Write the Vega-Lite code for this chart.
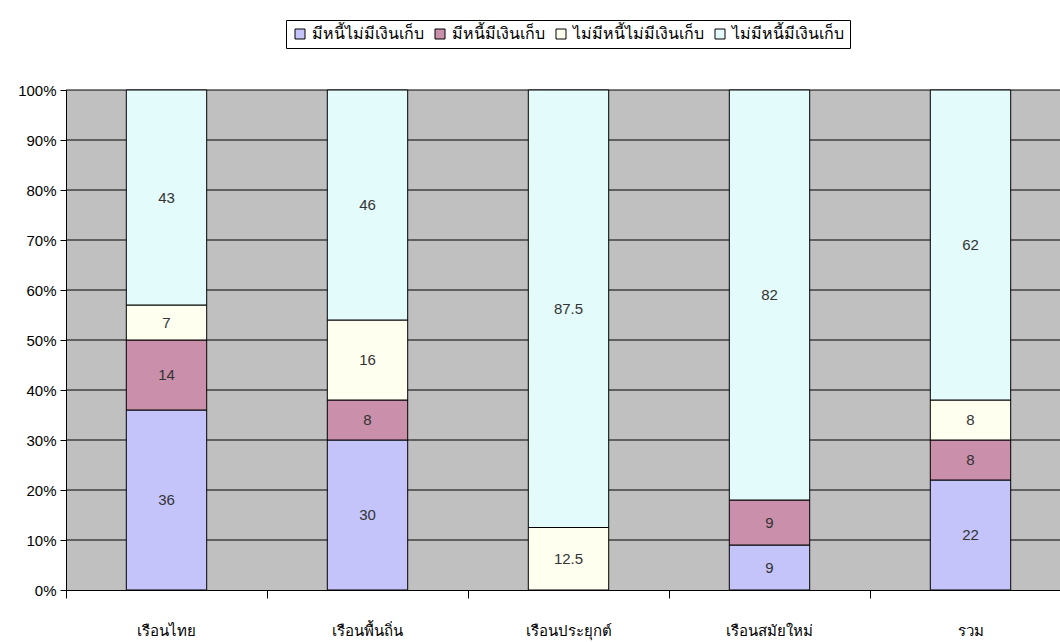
{
  "$schema": "https://vega.github.io/schema/vega-lite/v6.json",
  "width": 1005,
  "height": 500,
  "autosize": {"type": "none"},
  "padding": {"left": 66, "top": 90, "right": 0, "bottom": 52},
  "background": "white",
  "config": {
    "view": {"fill": "#c0c0c0", "stroke": null},
    "font": "Liberation Sans"
  },
  "data": {
    "values": [
      {"cat": "เรือนไทย", "series": "มีหนี้ไม่มีเงินเก็บ", "o": 1, "v": 36},
      {"cat": "เรือนไทย", "series": "มีหนี้มีเงินเก็บ", "o": 2, "v": 14},
      {"cat": "เรือนไทย", "series": "ไม่มีหนี้ไม่มีเงินเก็บ", "o": 3, "v": 7},
      {"cat": "เรือนไทย", "series": "ไม่มีหนี้มีเงินเก็บ", "o": 4, "v": 43},
      {"cat": "เรือนพื้นถิ่น", "series": "มีหนี้ไม่มีเงินเก็บ", "o": 1, "v": 30},
      {"cat": "เรือนพื้นถิ่น", "series": "มีหนี้มีเงินเก็บ", "o": 2, "v": 8},
      {"cat": "เรือนพื้นถิ่น", "series": "ไม่มีหนี้ไม่มีเงินเก็บ", "o": 3, "v": 16},
      {"cat": "เรือนพื้นถิ่น", "series": "ไม่มีหนี้มีเงินเก็บ", "o": 4, "v": 46},
      {"cat": "เรือนประยุกต์", "series": "มีหนี้ไม่มีเงินเก็บ", "o": 1, "v": 0},
      {"cat": "เรือนประยุกต์", "series": "มีหนี้มีเงินเก็บ", "o": 2, "v": 0},
      {"cat": "เรือนประยุกต์", "series": "ไม่มีหนี้ไม่มีเงินเก็บ", "o": 3, "v": 12.5},
      {"cat": "เรือนประยุกต์", "series": "ไม่มีหนี้มีเงินเก็บ", "o": 4, "v": 87.5},
      {"cat": "เรือนสมัยใหม่", "series": "มีหนี้ไม่มีเงินเก็บ", "o": 1, "v": 9},
      {"cat": "เรือนสมัยใหม่", "series": "มีหนี้มีเงินเก็บ", "o": 2, "v": 9},
      {"cat": "เรือนสมัยใหม่", "series": "ไม่มีหนี้ไม่มีเงินเก็บ", "o": 3, "v": 0},
      {"cat": "เรือนสมัยใหม่", "series": "ไม่มีหนี้มีเงินเก็บ", "o": 4, "v": 82},
      {"cat": "รวม", "series": "มีหนี้ไม่มีเงินเก็บ", "o": 1, "v": 22},
      {"cat": "รวม", "series": "มีหนี้มีเงินเก็บ", "o": 2, "v": 8},
      {"cat": "รวม", "series": "ไม่มีหนี้ไม่มีเงินเก็บ", "o": 3, "v": 8},
      {"cat": "รวม", "series": "ไม่มีหนี้มีเงินเก็บ", "o": 4, "v": 62}
    ]
  },
  "transform": [
    {"filter": "datum.v > 0"},
    {"stack": "v", "groupby": ["cat"], "sort": [{"field": "o", "order": "ascending"}], "as": ["y0", "y1"]},
    {"calculate": "(datum.y0 + datum.y1) / 2", "as": "ymid"}
  ],
  "layer": [
    {
      "mark": {"type": "rule", "color": "black", "strokeWidth": 1},
      "data": {"values": [{"g": 10}, {"g": 20}, {"g": 30}, {"g": 40}, {"g": 50}, {"g": 60}, {"g": 70}, {"g": 80}, {"g": 90}, {"g": 100}]},
      "transform": [],
      "encoding": {
        "y": {"field": "g", "type": "quantitative", "scale": {"domain": [0, 100]}, "title": null}
      }
    },
    {
      "mark": {"type": "bar", "width": {"band": 0.4}, "stroke": "black", "strokeWidth": 1},
      "encoding": {
        "x": {
          "field": "cat",
          "type": "nominal",
          "sort": ["เรือนไทย", "เรือนพื้นถิ่น", "เรือนประยุกต์", "เรือนสมัยใหม่", "รวม"],
          "scale": {"paddingInner": 0, "paddingOuter": 0},
          "axis": {
            "title": null,
            "labelAngle": 0,
            "labelFont": "Noto Sans",
            "labelFontSize": 15,
            "labelColor": "black",
            "labelPadding": 25,
            "bandPosition": 0,
            "ticks": true,
            "tickSize": 8,
            "tickColor": "black",
            "domain": true,
            "domainColor": "black",
            "grid": false
          }
        },
        "y": {
          "field": "y0",
          "type": "quantitative",
          "scale": {"domain": [0, 100]},
          "axis": {
            "title": null,
            "values": [0, 10, 20, 30, 40, 50, 60, 70, 80, 90, 100],
            "labelExpr": "datum.value + '%'",
            "labelFontSize": 15,
            "labelColor": "black",
            "labelPadding": 4,
            "tickSize": 6,
            "tickColor": "black",
            "domainColor": "black",
            "grid": false
          }
        },
        "y2": {"field": "y1"},
        "fill": {
          "field": "series",
          "type": "nominal",
          "sort": ["มีหนี้ไม่มีเงินเก็บ", "มีหนี้มีเงินเก็บ", "ไม่มีหนี้ไม่มีเงินเก็บ", "ไม่มีหนี้มีเงินเก็บ"],
          "scale": {
            "domain": ["มีหนี้ไม่มีเงินเก็บ", "มีหนี้มีเงินเก็บ", "ไม่มีหนี้ไม่มีเงินเก็บ", "ไม่มีหนี้มีเงินเก็บ"],
            "range": ["#c4c4fb", "#c98fab", "#fffff0", "#e4fbfb"]
          },
          "legend": {
            "title": null,
            "orient": "none",
            "legendX": 220,
            "legendY": -70,
            "direction": "horizontal",
            "symbolType": "square",
            "symbolSize": 100,
            "symbolStrokeColor": "black",
            "symbolStrokeWidth": 1,
            "labelFont": "Noto Sans",
            "labelFontSize": 16,
            "labelColor": "black",
            "labelOffset": 4,
            "columnPadding": 8,
            "strokeColor": "black",
            "fillColor": "white",
            "padding": 6
          }
        }
      }
    },
    {
      "mark": {"type": "text", "fontSize": 15, "color": "#333333"},
      "encoding": {
        "x": {
          "field": "cat",
          "type": "nominal",
          "sort": ["เรือนไทย", "เรือนพื้นถิ่น", "เรือนประยุกต์", "เรือนสมัยใหม่", "รวม"]
        },
        "y": {"field": "ymid", "type": "quantitative"},
        "text": {"field": "v", "type": "quantitative"}
      }
    }
  ]
}
